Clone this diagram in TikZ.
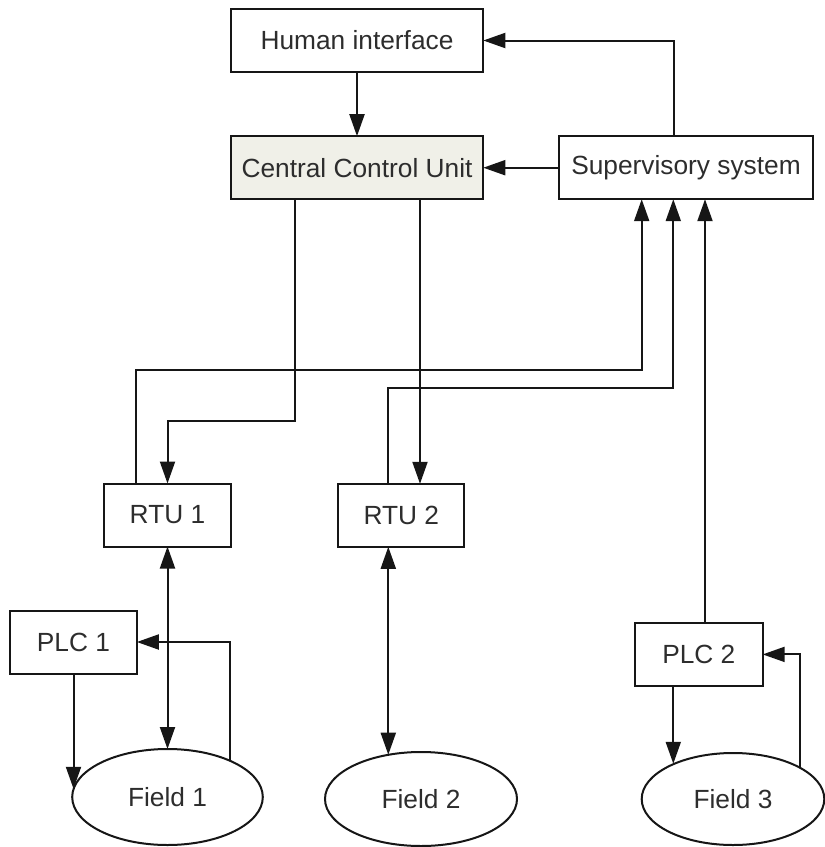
\documentclass[tikz,border=0pt]{standalone}
\usepackage{fontspec}
\setmainfont{Liberation Sans}
\usetikzlibrary{arrows.meta,shapes.geometric}
\definecolor{ink}{RGB}{22,22,22}
\definecolor{label}{RGB}{45,45,45}
\definecolor{ccufill}{RGB}{240,240,232}
\begin{document}
\begin{tikzpicture}[x=1pt,y=-1pt,
  box/.style={draw=ink, line width=2pt, rectangle, inner sep=0pt, outer sep=0pt,
    text=label, font=\fontsize{26.3}{30}\selectfont},
  wide/.style={box, minimum width=252.6pt, minimum height=63pt},
  small/.style={box, minimum width=126.7pt, minimum height=63pt},
  field/.style={draw=ink, line width=2pt, ellipse, inner sep=0pt, outer sep=0pt,
    text=label, font=\fontsize{26.3}{30}\selectfont},
  tip/.tip={Triangle[length=22pt,width=15pt]},
  link/.style={draw=ink, line width=2pt, -tip},
  bothway/.style={draw=ink, line width=2pt, tip-tip}
]
\useasboundingbox (0,0) rectangle (825,847);

% upper level
\node[wide, minimum height=62.4pt] (hmi) at (357,40.5) {Human interface};
\node[wide, fill=ccufill] (ccu) at (357,167.7) {Central Control Unit};
\node[box, minimum width=254.5pt, minimum height=63pt] (sup) at (686,167.7) {Supervisory system};

% remote units and controllers
\node[small] (rtu1) at (167.5,515) {RTU 1};
\node[small, minimum width=126pt] (rtu2) at (401.3,515.3) {RTU 2};
\node[small] (plc1) at (73.5,642) {PLC 1};
\node[small, minimum width=127.7pt] (plc2) at (698.85,654.4) {PLC 2};

% field sites
\node[field, minimum width=190.6pt, minimum height=96pt] (f1) at (167.5,797) {Field 1};
\node[field, minimum width=192pt, minimum height=94pt] (f2) at (421,799) {Field 2};
\node[field, minimum width=182.6pt, minimum height=92pt] (f3) at (733,799) {Field 3};

% top connections
\draw[link] (hmi.south) -- (ccu.north);
\draw[link] ([xshift=-11.7pt]sup.north) |- (hmi.east);
\draw[link] (sup.west) -- (ccu.east);

% central unit to the RTUs
\draw[link] ([xshift=-62.5pt]ccu.south) -- ++(0,221.4) -| (rtu1.north);
\draw[link] ([xshift=63pt]ccu.south) -- ([xshift=63pt]ccu.south |- rtu2.north);

% reports up to the supervisory system
\draw[link] ([xshift=-31.8pt]rtu1.north) -- ++(0,-113.3) -| ([xshift=-44.3pt]sup.south);
\draw[link] ([xshift=-13pt]rtu2.north) -- ++(0,-95.7) -| ([xshift=-12.7pt]sup.south);
\draw[link] ([xshift=6.15pt]plc2.north) -- ([xshift=6.15pt]plc2.north |- sup.south);

% RTUs to field sites
\draw[bothway] (rtu1.south) -- (f1.north);
\draw[bothway] ([xshift=-13pt]rtu2.south) -- ([xshift=-13pt]rtu2.south |- f2.126.5);

% local PLC loops
\draw[link] (plc1.south) -- (plc1.south |- f1.175.1);
\draw[link] (f1.30.1) |- (plc1.east);
\draw[link] ([xshift=-25.55pt]plc2.south) -- ([xshift=-25.55pt]plc2.south |- f3.149.8);
\draw[link] (f3.25.7) |- (plc2.east);
\end{tikzpicture}
\end{document}
